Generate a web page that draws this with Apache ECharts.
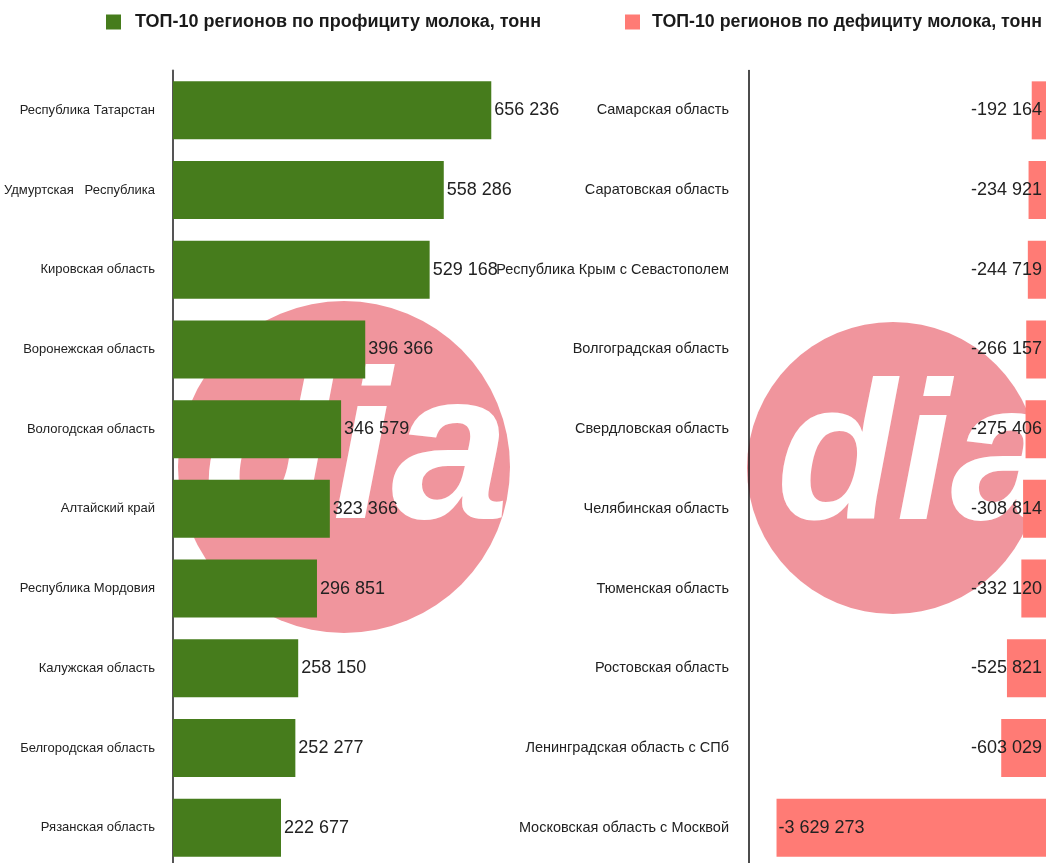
<!DOCTYPE html>
<html>
<head>
<meta charset="utf-8">
<script src="https://cdn.jsdelivr.net/npm/echarts@6/dist/echarts.min.js"></script>
<style>
html,body{margin:0;padding:0;background:#fff;overflow:hidden;}
#chart{width:1048px;height:872px;}
</style>
</head>
<body>
<div id="chart"></div>
<script>
var surplusName = 'ТОП-10 регионов по профициту молока, тонн';
var deficitName = 'ТОП-10 регионов по дефициту молока, тонн';

var surplusRegions = ['Республика Татарстан', 'Удмуртская   Республика', 'Кировская область', 'Воронежская область', 'Вологодская область', 'Алтайский край', 'Республика Мордовия', 'Калужская область', 'Белгородская область', 'Рязанская область'];
var surplusValues = [656236, 558286, 529168, 396366, 346579, 323366, 296851, 258150, 252277, 222677];

var deficitRegions = ['Самарская область', 'Саратовская область', 'Республика Крым с Севастополем', 'Волгоградская область', 'Свердловская область', 'Челябинская область', 'Тюменская область', 'Ростовская область', 'Ленинградская область с СПб', 'Московская область с Москвой'];
var deficitValues = [-192164, -234921, -244719, -266157, -275406, -308814, -332120, -525821, -603029, -3629273];

function fmt(v) {
  var s = Math.abs(v).toString().replace(/\B(?=(\d{3})+(?!\d))/g, ' ');
  return (v < 0 ? '-' : '') + s;
}

var FONT = 'Liberation Sans, Arial, sans-serif';
var GREEN = '#467C1C';
var RED = '#FF7B75';
var PINK = '#F0959D';

var chart = echarts.init(document.getElementById('chart'), null, {renderer: 'canvas'});

var option = {
  backgroundColor: '#fff',
  animation: false,
  legend: [
    {
      data: [surplusName], left: 101, top: 8, itemWidth: 15, itemHeight: 15, icon: 'rect',
      textStyle: {fontFamily: FONT, fontSize: 18, fontWeight: 'bold', color: '#1a1a1a', padding: [0, 0, 0, 9]}
    },
    {
      data: [deficitName], left: 620, top: 8, itemWidth: 15, itemHeight: 15, icon: 'rect',
      textStyle: {fontFamily: FONT, fontSize: 17.8, fontWeight: 'bold', color: '#1a1a1a', padding: [0, 0, 0, 7]}
    }
  ],
  graphic: [
    {type: 'circle', z: -10, shape: {cx: 344, cy: 467, r: 166}, style: {fill: PINK}, silent: true},
    {type: 'circle', z: -10, shape: {cx: 893, cy: 468, r: 146}, style: {fill: PINK}, silent: true},
    {type: 'text', z: -9, x: 356, y: 566, silent: true,
      style: {text: 'dia', fill: '#fff', font: 'italic 900 212px "Liberation Sans", Arial, sans-serif', textAlign: 'center', textVerticalAlign: 'bottom'}},
    {type: 'text', z: -9, x: 918, y: 563, silent: true,
      style: {text: 'dia', fill: '#fff', font: 'italic 900 196px "Liberation Sans", Arial, sans-serif', textAlign: 'center', textVerticalAlign: 'bottom'}}
  ],
  grid: [
    {left: 173, top: 70.5, width: 339.5, height: 797},
    {left: 749, top: 70.5, width: 297, height: 797}
  ],
  xAxis: [
    {type: 'value', gridIndex: 0, min: 0, max: 700000, show: false},
    {type: 'value', gridIndex: 1, min: -4000000, max: 0, show: false}
  ],
  yAxis: [
    {
      type: 'category', gridIndex: 0, data: surplusRegions, inverse: true,
      axisTick: {show: false},
      axisLine: {show: true, onZero: false, lineStyle: {color: '#555', width: 2}},
      axisLabel: {fontFamily: FONT, fontSize: 13, color: '#222', margin: 18}
    },
    {
      type: 'category', gridIndex: 1, data: deficitRegions, inverse: true,
      axisTick: {show: false},
      axisLine: {show: true, onZero: false, lineStyle: {color: '#111', width: 1.5}},
      axisLabel: {fontFamily: FONT, fontSize: 14.5, color: '#222', margin: 20}
    }
  ],
  series: [
    {
      name: surplusName, type: 'bar', xAxisIndex: 0, yAxisIndex: 0,
      data: surplusValues, barWidth: 58,
      itemStyle: {color: GREEN},
      label: {show: true, position: 'right', distance: 3, fontFamily: FONT, fontSize: 18, color: '#222',
        formatter: function (p) { return fmt(p.value); }}
    },
    {
      name: deficitName, type: 'bar', xAxisIndex: 1, yAxisIndex: 1,
      data: deficitValues.map(function (v) {
        return {value: v, label: {position: v < -1000000 ? 'insideLeft' : 'insideRight', distance: v < -1000000 ? 2 : 4}};
      }),
      barWidth: 58,
      itemStyle: {color: RED},
      label: {show: true, fontFamily: FONT, fontSize: 18, color: '#222',
        formatter: function (p) { return fmt(p.value); }}
    }
  ]
};

chart.setOption(option);
</script>
</body>
</html>
